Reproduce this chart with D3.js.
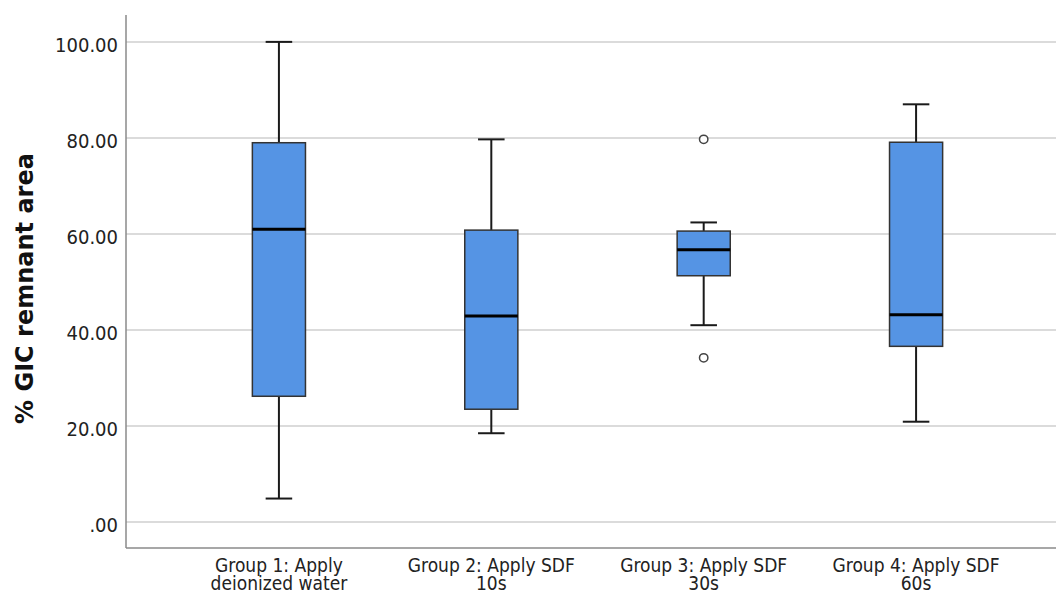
<!DOCTYPE html>
<html>
<head>
<meta charset="utf-8">
<script src="https://cdn.jsdelivr.net/npm/d3@7"></script>
<style>
  html, body { margin: 0; padding: 0; background: #fff; }
  svg { display: block; }
</style>
</head>
<body>
<svg id="chart" width="1056" height="594"></svg>
<script>
// ---- data ----
const groups = ["Group 1: Apply|deionized water", "Group 2: Apply SDF|10s", "Group 3: Apply SDF|30s", "Group 4: Apply SDF|60s"];
const whiskerLow  = [4.9, 18.5, 41.0, 20.9];
const q1          = [26.2, 23.5, 51.3, 36.6];
const median      = [61.0, 42.9, 56.7, 43.2];
const q3          = [79.0, 60.8, 60.6, 79.1];
const whiskerHigh = [100.0, 79.7, 62.4, 87.0];
const outliers    = [[], [], [79.7, 34.2], []];
const yTicks      = [0, 20, 40, 60, 80, 100];
const yTitle      = "% GIC remnant area";

(function () {
// ---- layout ----
const W = 1056, H = 594;
const mLeft = 126, mTop = 15, mBottom = 548, mRight = 1069;
const svg = d3.select("#chart");

const y = d3.scaleLinear().domain([-5.4, 105.6]).range([mBottom, mTop]);
const x = d3.scalePoint().domain(groups).range([mLeft, mRight]).padding(0.72);
const step = x.step();
const boxW = step * 0.25;
const capW = boxW * 0.5;

const tickFont = "'DejaVu Sans Condensed', 'DejaVu Sans', sans-serif";

// gridlines
svg.append("g").selectAll("line").data(yTicks).join("line")
  .attr("x1", mLeft).attr("x2", W)
  .attr("y1", d => y(d)).attr("y2", d => y(d))
  .attr("stroke", "#cfcfcf").attr("stroke-width", 1.5);

// y tick labels
svg.append("g").selectAll("text").data(yTicks).join("text")
  .attr("x", mLeft - 8).attr("y", d => y(d)).attr("dy", "0.5em")
  .attr("text-anchor", "end")
  .attr("font-family", tickFont).attr("font-stretch", "condensed")
  .attr("font-size", 20).attr("fill", "#222")
  .text(d => d === 0 ? ".00" : d3.format(".2f")(d));

// axes lines
svg.append("line").attr("x1", mLeft).attr("x2", mLeft).attr("y1", mTop).attr("y2", mBottom)
  .attr("stroke", "#8a8a8a").attr("stroke-width", 1.5);
svg.append("line").attr("x1", mLeft).attr("x2", W).attr("y1", mBottom).attr("y2", mBottom)
  .attr("stroke", "#8a8a8a").attr("stroke-width", 1.5);

// boxes
const g = svg.append("g");
groups.forEach((grp, i) => {
  const cx = x(grp);
  g.append("line").attr("x1", cx).attr("x2", cx).attr("y1", y(whiskerHigh[i])).attr("y2", y(q3[i]))
    .attr("stroke", "#1a1a1a").attr("stroke-width", 2);
  g.append("line").attr("x1", cx).attr("x2", cx).attr("y1", y(q1[i])).attr("y2", y(whiskerLow[i]))
    .attr("stroke", "#1a1a1a").attr("stroke-width", 2);
  g.append("line").attr("x1", cx - capW / 2).attr("x2", cx + capW / 2).attr("y1", y(whiskerHigh[i])).attr("y2", y(whiskerHigh[i]))
    .attr("stroke", "#1a1a1a").attr("stroke-width", 2);
  g.append("line").attr("x1", cx - capW / 2).attr("x2", cx + capW / 2).attr("y1", y(whiskerLow[i])).attr("y2", y(whiskerLow[i]))
    .attr("stroke", "#1a1a1a").attr("stroke-width", 2);
  g.append("rect").attr("x", cx - boxW / 2).attr("width", boxW)
    .attr("y", y(q3[i])).attr("height", y(q1[i]) - y(q3[i]))
    .attr("fill", "#5594e4").attr("stroke", "#333").attr("stroke-width", 1.5);
  g.append("line").attr("x1", cx - boxW / 2).attr("x2", cx + boxW / 2).attr("y1", y(median[i])).attr("y2", y(median[i]))
    .attr("stroke", "#000").attr("stroke-width", 3);
  outliers[i].forEach(v => {
    g.append("circle").attr("cx", cx).attr("cy", y(v)).attr("r", 4.2)
      .attr("fill", "#fff").attr("stroke", "#444").attr("stroke-width", 1.5);
  });
});

// x labels
const xl = svg.append("g");
groups.forEach(grp => {
  const lines = grp.split("|");
  const t = xl.append("text").attr("text-anchor", "middle")
    .attr("font-family", tickFont).attr("font-stretch", "condensed")
    .attr("font-size", 19).attr("fill", "#222");
  lines.forEach((ln, j) => {
    t.append("tspan").attr("x", x(grp)).attr("y", 572 + j * 17.5).text(ln);
  });
});

// y title
svg.append("text")
  .attr("transform", `translate(33, ${(150 + 427) / 2}) rotate(-90)`)
  .attr("text-anchor", "middle")
  .attr("font-family", "'DejaVu Sans', sans-serif").attr("font-weight", "bold")
  .attr("font-size", 24).attr("fill", "#111")
  .text(yTitle);
})();
</script>
</body>
</html>
